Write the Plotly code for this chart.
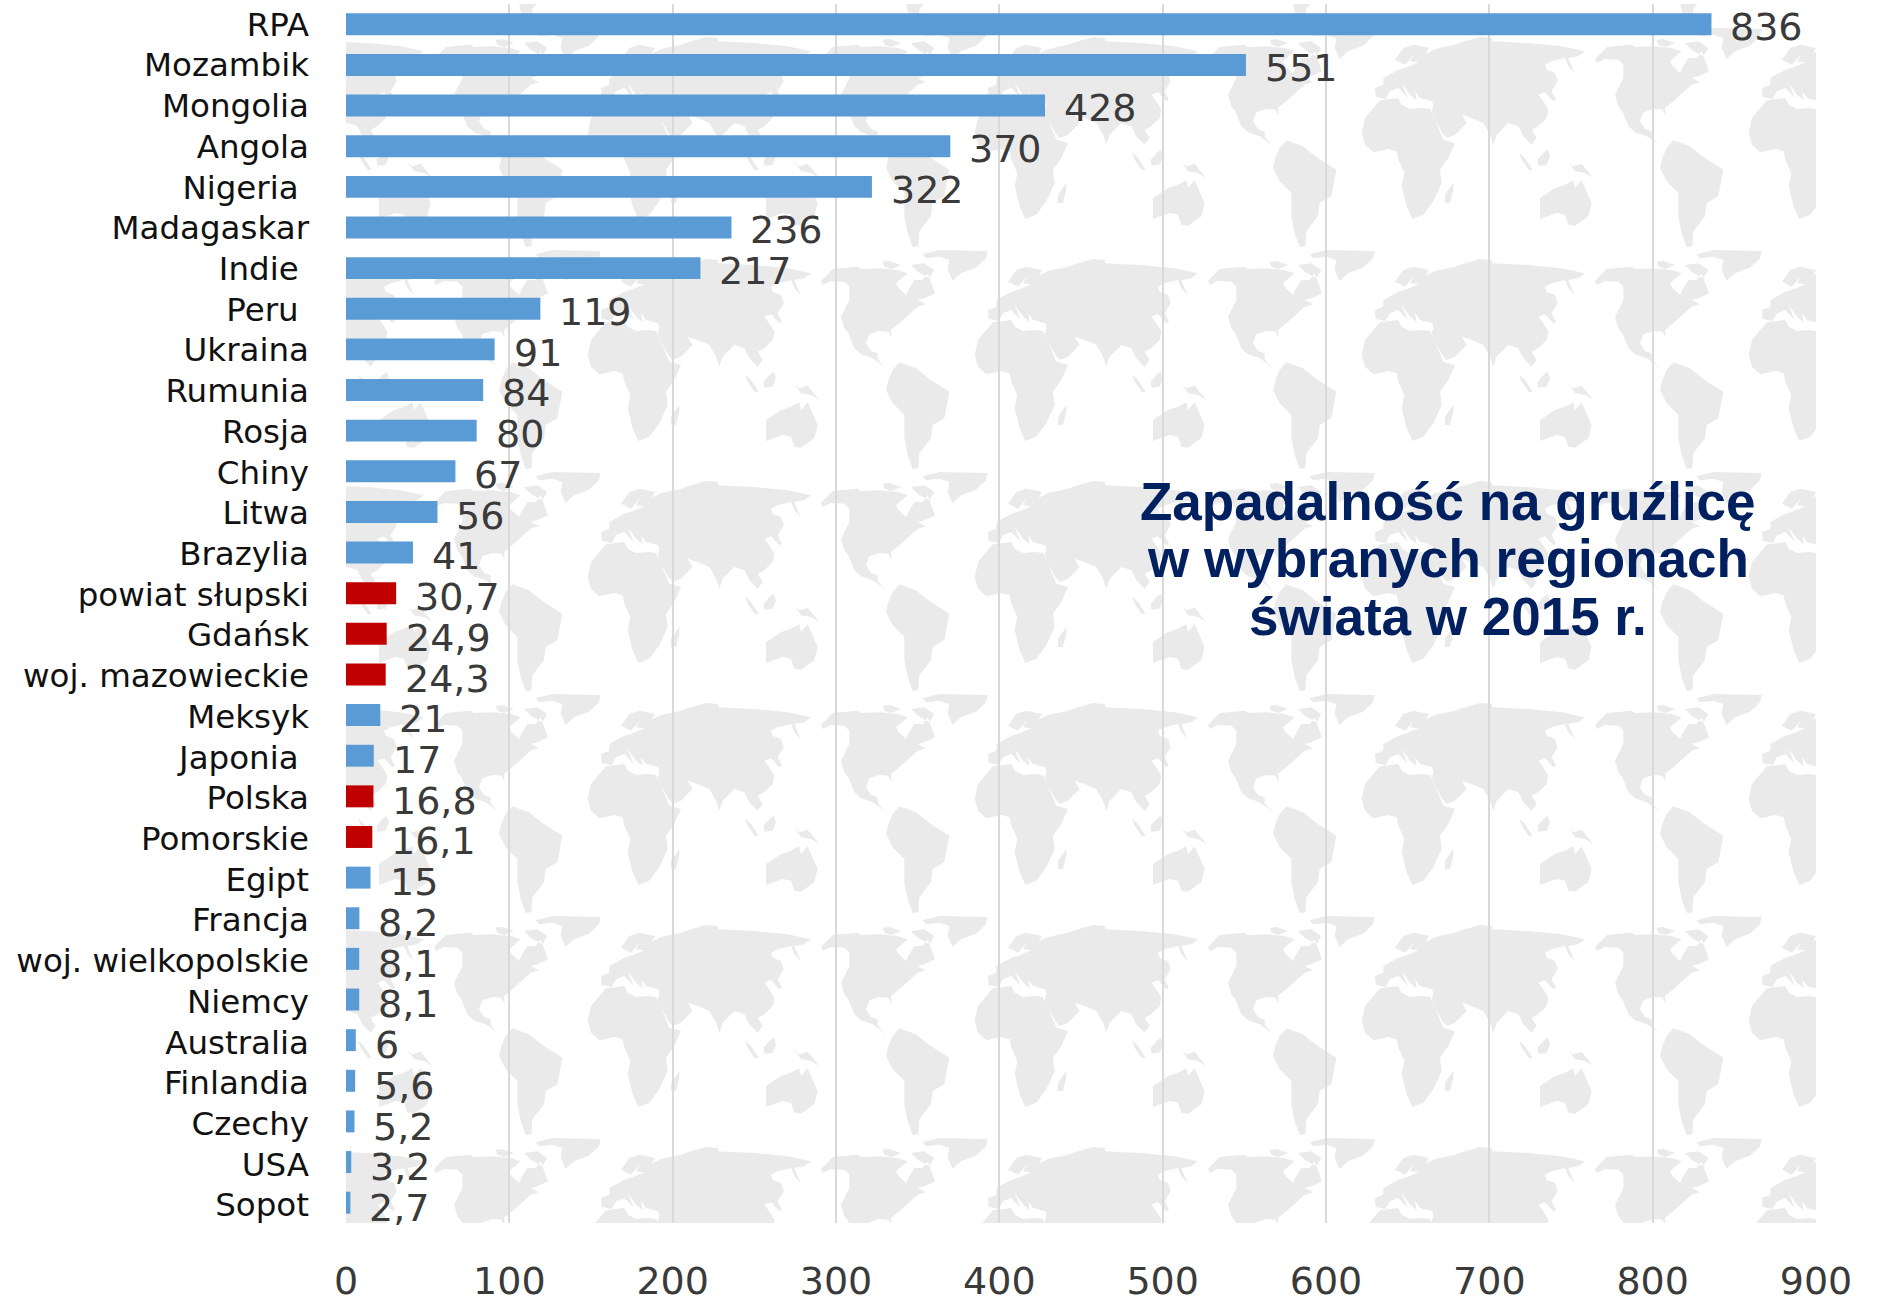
import plotly.graph_objects as go

# ---------- data ----------
categories = ["RPA", "Mozambik", "Mongolia", "Angola", "Nigeria\u00a0", "Madagaskar", "Indie\u00a0", "Peru\u00a0",
              "Ukraina", "Rumunia", "Rosja", "Chiny", "Litwa", "Brazylia", "powiat słupski", "Gdańsk",
              "woj. mazowieckie", "Meksyk", "Japonia\u00a0", "Polska", "Pomorskie", "Egipt", "Francja",
              "woj. wielkopolskie", "Niemcy", "Australia", "Finlandia", "Czechy", "USA", "Sopot"]
values = [836, 551, 428, 370, 322, 236, 217, 119, 91, 84, 80, 67, 56, 41, 30.7, 24.9, 24.3, 21, 17, 16.8, 16.1,
          15, 8.2, 8.1, 8.1, 6, 5.6, 5.2, 3.2, 2.7]
polish_regions = {"powiat słupski", "Gdańsk", "woj. mazowieckie", "Polska", "Pomorskie"}
x_ticks = [0, 100, 200, 300, 400, 500, 600, 700, 800, 900]
title_lines = ["Zapadalność na gruźlicę", "w wybranych regionach", "świata w 2015 r."]

BLUE, RED, GRID, LAND, NAVY, DARK = "#5B9BD5", "#C00000", "#D9D9D9", "#EAEAEA", "#002060", "#3A3A3A"
W, H = 1885, 1302
L, R, T, B = 346, 1816, 4, 1223
FONT = "DejaVu Sans"

# ---------- decorative world-map wallpaper (outline of one tile, in tile pixels x3) ----------
eurasia = [(60,195),(85,185),(85,165),(130,140),(155,133),(190,118),(165,115),(178,92),(150,125),(120,110),(145,75),
           (175,65),(222,75),(212,92),(240,78),(300,65),(320,58),(375,42),(410,45),(412,55),(470,58),(520,60),(620,70),
           (690,85),(670,100),(640,105),(650,130),(660,150),(640,130),(630,105),(590,115),(570,125),(575,140),(600,150),
           (608,175),(590,205),(603,230),(595,235),(570,208),(550,215),(565,235),(580,260),(575,285),(550,310),(530,320),
           (545,345),(530,365),(505,340),(490,310),(460,300),(425,335),(415,365),(405,335),(385,300),(350,285),(320,275),
           (335,300),(300,335),(275,345),(262,330),(240,290),(230,265),(235,250),(232,235),(195,225),(180,205),(185,232),
           (165,215),(140,180),(158,225),(130,195),(105,205),(92,228),(62,222)]
africa = [(75,232),(130,225),(140,245),(165,258),(200,255),(225,258),(240,290),(265,350),(300,360),(280,405),(255,440),
          (260,480),(235,535),(205,575),(172,588),(155,550),(140,490),(148,450),(130,410),(125,385),(100,378),(55,388),
          (30,365),(20,330),(30,285),(55,255)]
madagascar = [(295,480),(295,500),(285,540),(270,540),(270,515)]
sumatra = [(492,388),(510,405),(533,440),(522,442),(500,410)]
borneo = [(578,380),(585,400),(575,425),(550,428),(548,410),(565,390)]
new_guinea = [(640,418),(655,430),(680,422),(715,465),(690,450),(660,445),(650,430)]
australia = [(555,525),(600,495),(630,485),(655,472),(660,495),(680,472),(710,540),(700,580),(660,608),(640,605),
             (630,575),(605,570),(555,588)]
north_america = [(30,108),(65,72),(140,65),(150,72),(205,70),(260,75),(290,85),(255,115),(262,128),(285,150),(295,130),
                 (310,105),(335,105),(350,85),(372,145),(340,160),(320,165),(345,178),(320,185),(265,235),(240,255),
                 (242,280),(232,260),(205,258),(175,268),(165,295),(180,318),(200,325),(200,342),(225,372),(210,358),
                 (185,340),(150,328),(130,310),(112,265),(100,250),(90,215),(115,165),(115,125),(100,110),(60,108),(35,120)]
arctic_a = [(215,50),(235,48),(270,60),(240,72),(220,65)]
arctic_b = [(300,60),(340,55),(370,75),(355,100),(320,80)]
greenland = [(335,28),(385,15),(530,18),(525,40),(495,68),(450,85),(425,108),(410,75),(415,45),(385,35),(345,40)]
south_america = [(245,375),(265,352),(315,370),(355,402),(415,440),(400,520),(365,540),(360,580),(325,625),(322,670),
                 (305,672),(290,630),(280,580),(280,510),(245,475),(225,435),(232,405)]
old_world = [eurasia, africa, madagascar, sumatra, borneo, new_guinea, australia]
new_world = [north_america, arctic_a, arctic_b, greenland, south_america]

PX_PER_UNIT = (R - L) / 900
ROW = (B - T) / len(categories)

def px_to_data(px, py):
    return (px - L) / PX_PER_UNIT, (py - T) / ROW - 0.5

def tile_path(dx, dy):
    parts = []
    for group, ox, oy in ((old_world, 1355, 245), (new_world, 1585, 245)):
        for poly in group:
            pts = [px_to_data(ox + x / 3 + dx, oy + y / 3 + dy) for x, y in poly]
            parts.append("M" + "L".join(f"{a:.2f},{b:.3f}" for a, b in pts) + "Z")
    return "".join(parts)

map_path = "".join(tile_path(ix * 387, iy * 222) for ix in range(-3, 2) for iy in range(-2, 5))

# ---------- figure ----------
y_pos = list(range(len(categories)))
fig = go.Figure(go.Bar(
    x=values, y=y_pos, orientation="h", width=0.54,
    marker=dict(color=[RED if c in polish_regions else BLUE for c in categories], line=dict(width=0)),
    hoverinfo="x+y",
))
fig.add_shape(type="path", path=map_path, xref="x", yref="y", layer="below",
              fillcolor=LAND, line=dict(width=0))

annotations = []
for i, v in enumerate(values):
    annotations.append(dict(x=v, y=i, xref="x", yref="y", text=str(v).replace(".", ","), showarrow=False,
                            xanchor="left", yanchor="middle", xshift=17, yshift=-(2.5 + i * 0.1),
                            font=dict(family=FONT, size=38, color=DARK)))
for line, py in zip(title_lines, (501, 558, 616)):
    annotations.append(dict(x=(1448 - L) / PX_PER_UNIT, y=px_to_data(0, py)[1], xref="x", yref="y", text=line,
                            showarrow=False, xanchor="center", yanchor="middle",
                            font=dict(family="Liberation Sans", size=53, color=NAVY, weight="bold")))

fig.update_layout(
    width=W, height=H, autosize=False, showlegend=False, bargap=0.46,
    paper_bgcolor="white", plot_bgcolor="white",
    margin=dict(l=L, r=W - R, t=T, b=H - B, pad=0, autoexpand=False),
    annotations=annotations,
    xaxis=dict(range=[0, 900], tickvals=x_ticks, showgrid=True, gridcolor=GRID, gridwidth=2, zeroline=False,
               showline=False, ticks="", ticklabelstandoff=32, automargin=False,
               tickfont=dict(family=FONT, size=38, color=DARK)),
    yaxis=dict(range=[len(categories) - 0.5, -0.5], tickvals=[p * 1.002 for p in y_pos], ticktext=categories,
               showgrid=False, zeroline=False, showline=False, ticks="", ticklabelstandoff=36, automargin=False,
               tickfont=dict(family=FONT, size=32.5, color="#111111")),
)
fig.write_html("out.html", config={"displayModeBar": False}, post_script="document.body.style.margin='0';")
